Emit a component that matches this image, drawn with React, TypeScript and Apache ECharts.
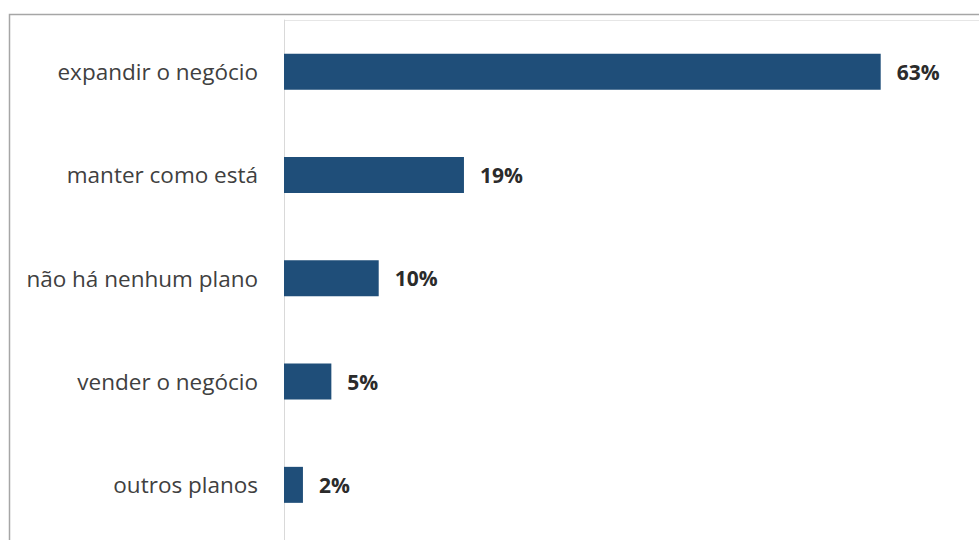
import React, { useEffect, useRef } from "react";
import * as echarts from "echarts";

const categories = ["expandir o negócio", "manter como está", "não há nenhum plano", "vender o negócio", "outros planos"];
const values = [63, 19, 10, 5, 2];

export default function App() {
  const ref = useRef<HTMLDivElement>(null);
  useEffect(() => {
    document.body.style.margin = "0";
    const chart = echarts.init(ref.current!, undefined, { renderer: "svg" });
    chart.setOption({
      animation: false,
      backgroundColor: "#ffffff",
      grid: { left: 284, right: 32, top: 20, bottom: 3.5, containLabel: false },
      xAxis: {
        type: "value",
        min: 0,
        max: 70,
        show: false,
      },
      yAxis: {
        type: "category",
        data: categories,
        inverse: true,
        axisLine: { show: true, lineStyle: { color: "#d9d9d9", width: 1 } },
        axisTick: { show: false },
        axisLabel: {
          margin: 26,
          fontFamily: "Open Sans",
          fontSize: 22.5,
          color: "#404040",
        },
      },
      series: [
        {
          type: "bar",
          data: values,
          barWidth: 36,
          itemStyle: { color: "#1f4e79" },
          label: {
            show: true,
            position: "right",
            distance: 16,
            formatter: "{c}%",
            fontFamily: "Open Sans",
            fontWeight: "bold",
            fontSize: 21,
            color: "#2b2b2b",
          },
        },
      ],
      graphic: [
        {
          type: "rect",
          shape: { x: 9.5, y: 14.5, width: 1000, height: 600 },
          style: { fill: "none", stroke: "#a6a6a6", lineWidth: 1.5 },
          silent: true,
        },
        {
          type: "line",
          shape: { x1: 284, y1: 20.5, x2: 979, y2: 20.5 },
          style: { stroke: "#e6e6e6", lineWidth: 1 },
          silent: true,
        },
        {
          type: "line",
          shape: { x1: 284.5, y1: 530, x2: 284.5, y2: 540 },
          style: { stroke: "#d9d9d9", lineWidth: 1 },
          silent: true,
        },
      ],
    });
    return () => chart.dispose();
  }, []);
  return <div ref={ref} style={{ width: 979, height: 540 }} />;
}
